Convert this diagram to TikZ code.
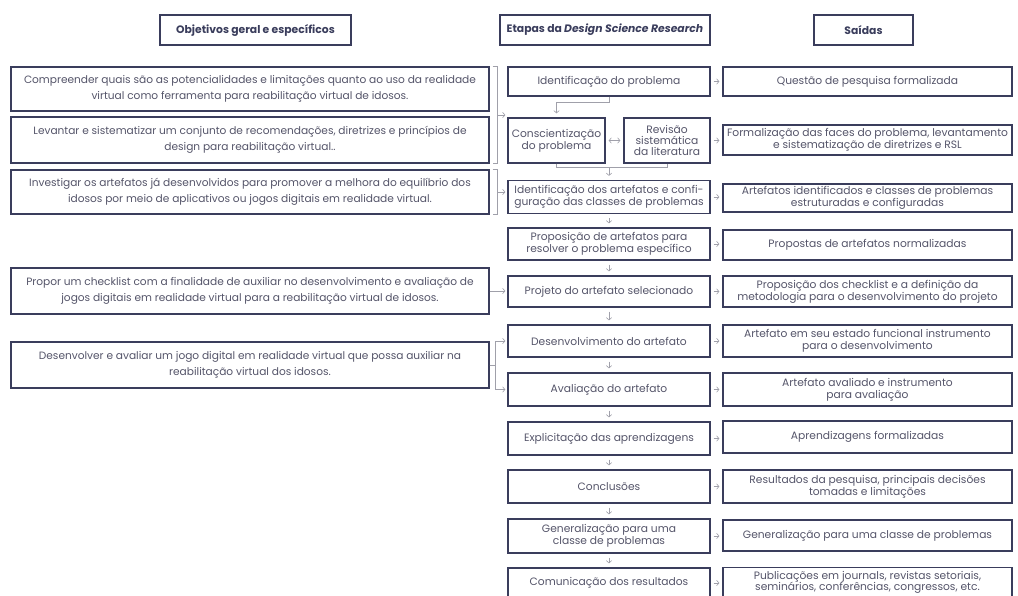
\documentclass[tikz,border=0pt]{standalone}
\usepackage{fontspec}
\setmainfont{Poppins}
\usetikzlibrary{arrows.meta,calc}
\definecolor{navy}{HTML}{3A3D5C}
\definecolor{txt}{HTML}{55556A}
\definecolor{lnk}{HTML}{A0A0AA}
\begin{document}
\begin{tikzpicture}[x=1pt,y=-1pt,
  box/.style={draw=navy, line width=1.3pt, inner sep=0pt, align=center, text=txt,
    font=\fontsize{10.7}{12}\selectfont},
  hd/.style={box, text=navy, font=\fontsize{10.8}{11}\selectfont\bfseries, minimum height=30},
  lbox/.style={box, font=\fontsize{10.6}{15.5}\selectfont, minimum width=478},
  mbox/.style={box, minimum width=202},
  rbox/.style={box, minimum width=289},
  conn/.style={draw=lnk, line width=0.6pt},
  arr/.style={conn, -{Straight Barb[length=2.4pt,width=5.5pt]}},
  darr/.style={conn, {Straight Barb[length=2.4pt,width=5.5pt]}-{Straight Barb[length=2.4pt,width=5.5pt]}}
]
\useasboundingbox (0,0) rectangle (1018,595);
\clip (0,0) rectangle (1018,595);
\fill[white] (0,0) rectangle (1018,595);

% headers
\node[hd, minimum width=191] (h1) at (255.5,30) {Objetivos geral e específicos};
\node[hd, minimum width=210] (h2) at (605,30) {Etapas da \textit{Design Science Research}};
\node[hd, minimum width=99] (h3) at (863.5,30) {Saídas};

% left column
\node[lbox, minimum height=44] (l1) at (250,89) {Compreender quais são as potencialidades e limitações quanto ao uso da realidade\\virtual como ferramenta para reabilitação virtual de idosos.};
\node[lbox, minimum height=46] (l2) at (250,140) {Levantar e sistematizar um conjunto de recomendações, diretrizes e princípios de\\design para reabilitação virtual..};
\node[lbox, minimum height=44] (l3) at (250,192) {Investigar os artefatos já desenvolvidos para promover a melhora do equilíbrio dos\\idosos por meio de aplicativos ou jogos digitais em realidade virtual.};
\node[lbox, minimum height=46] (l4) at (250,291) {Propor um checklist com a finalidade de auxiliar no desenvolvimento e avaliação de\\jogos digitais em realidade virtual para a reabilitação virtual de idosos.};
\node[lbox, minimum height=46] (l5) at (250,365) {Desenvolver e avaliar um jogo digital em realidade virtual que possa auxiliar na\\reabilitação virtual dos idosos.};

% middle column
\node[mbox, minimum height=29] (m1) at (609,81.5) {Identificação do problema};
\node[box, minimum width=97, minimum height=45] (m2a) at (556.5,140.5) {Conscientização\\do problema};
\node[box, minimum width=86, minimum height=45, font=\fontsize{10.7}{11.2}\selectfont] (m2b) at (667,140.5) {Revisão\\sistemática\\da literatura};
\node[mbox, minimum height=33] (m3) at (609,197) {Identificação dos artefatos e confi-\\guração das classes de problemas};
\node[mbox, minimum height=32] (m4) at (609,244) {Proposição de artefatos para\\resolver o problema específico};
\node[mbox, minimum height=31] (m5) at (609,291.5) {Projeto do artefato selecionado};
\node[mbox, minimum height=32] (m6) at (609,341) {Desenvolvimento do artefato};
\node[mbox, minimum height=33] (m7) at (609,389.5) {Avaliação do artefato};
\node[mbox, minimum height=33] (m8) at (609,438.5) {Explicitação das aprendizagens};
\node[mbox, minimum height=33] (m9) at (609,486.5) {Conclusões};
\node[mbox, minimum height=34] (m10) at (609,536) {Generalização para uma\\classe de problemas};
\node[mbox, minimum height=30] (m11) at (609,583) {Comunicação dos resultados};

% right column
\node[rbox, minimum height=29] (r1) at (867.5,81.5) {Questão de pesquisa formalizada};
\node[rbox, minimum height=30] (r2) at (867.5,140) {Formalização das faces do problema, levantamento\\e sistematização de diretrizes e RSL};
\node[rbox, minimum height=28] (r3) at (867.5,198) {Artefatos identificados e classes de problemas\\estruturadas e configuradas};
\node[rbox, minimum height=30] (r4) at (867.5,245) {Propostas de artefatos normalizadas};
\node[rbox, minimum height=31] (r5) at (867.5,291.5) {Proposição dos checklist e a definição da\\metodologia para o desenvolvimento do projeto};
\node[rbox, minimum height=32] (r6) at (867.5,341) {Artefato em seu estado funcional instrumento\\para o desenvolvimento};
\node[rbox, minimum height=33] (r7) at (867.5,389.5) {Artefato avaliado e instrumento\\para avaliação};
\node[rbox, minimum height=32] (r8) at (867.5,437) {Aprendizagens formalizadas};
\node[rbox, minimum height=33] (r9) at (867.5,486.5) {Resultados da pesquisa, principais decisões\\tomadas e limitações};
\node[rbox, minimum height=31] (r10) at (867.5,535.5) {Generalização para uma classe de problemas};
\node[rbox, minimum height=30, font=\fontsize{10.7}{11.5}\selectfont] (r11) at (867.5,582.5) {Publicações em journals, revistas setoriais,\\seminários, conferências, congressos, etc.};

% brackets from objectives
\draw[conn] ([xshift=3]l1.north east) -- ++(5,0) |- ([xshift=3]l2.south east);
\coordinate (b1) at ($([xshift=8]l1.north east)!0.5!([xshift=8]l2.south east)$);
\draw[arr, shorten >=2pt] (b1) -- (b1 -| m1.west);
\draw[conn] ([xshift=3]l3.north east) -- ++(5,0) |- ([xshift=3]l3.south east);
\coordinate (b2) at ([xshift=8]l3.east);
\draw[arr, shorten >=2pt] (b2) -- (b2 -| m3.west);
\draw[arr, shorten >=2pt] (l4.east) -- (l4.east -| m5.west);
\draw[arr, shorten >=2pt] (l5.east) -- ++(6,0) |- (m6.west);
\draw[arr, shorten >=2pt] (l5.east) -- ++(6,0) |- (m7.west);

% middle column flow
\draw[arr, shorten >=4pt] (m1.south) -- ++(0,6) -| (m2a.north);
\draw[darr, shorten <=3pt, shorten >=3pt] (m2a.east) -- (m2b.west);
\draw[conn] (m2a.south) -- ++(0,4) -| (m2b.south);
\coordinate (j1) at ($(m2a.south)+(0,4)$);
\draw[arr, shorten >=4pt] (j1 -| m3.north) -- (m3.north);
\foreach \a/\b in {m3/m4,m4/m5,m5/m6,m6/m7,m7/m8,m8/m9,m9/m10,m10/m11}
  \draw[arr, shorten <=4pt, shorten >=4pt] (\a.south) -- (\b.north);

% outputs
\foreach \a/\b in {m1/r1,m2b/r2,m3/r3,m4/r4,m5/r5,m6/r6,m7/r7,m8/r8,m9/r9,m10/r10,m11/r11}
  \draw[arr, shorten <=3pt, shorten >=3pt] (\a.east) -- (\a.east -| \b.west);
\end{tikzpicture}
\end{document}
